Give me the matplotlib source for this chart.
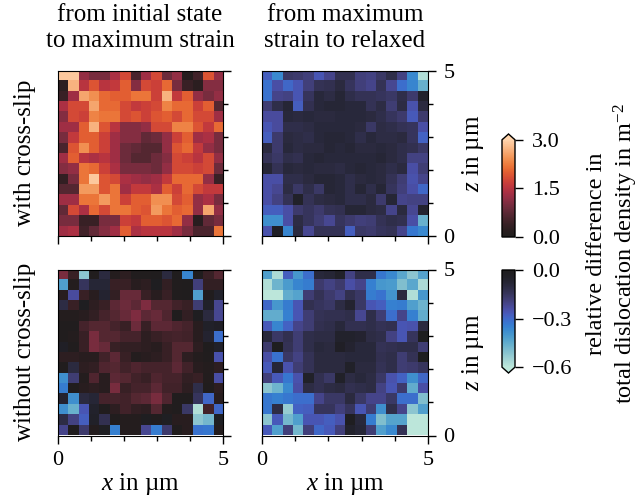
import numpy as np
import matplotlib
matplotlib.use("Agg")
import matplotlib.pyplot as plt
import seaborn as sns
from matplotlib.colors import TwoSlopeNorm, Normalize, LinearSegmentedColormap
from matplotlib.cm import ScalarMappable
from matplotlib.ticker import FixedLocator

plt.rcParams['font.family'] = ['Liberation Serif', 'DejaVu Serif']
plt.rcParams['font.size'] = 17
plt.rcParams['mathtext.fontset'] = 'custom'
plt.rcParams['mathtext.rm'] = 'Liberation Serif'
plt.rcParams['mathtext.it'] = 'Liberation Serif:italic'
plt.rcParams['mathtext.bf'] = 'Liberation Serif:bold'

# rows run top to bottom, each cell
slip_load = [
    [2.9,2.9,1.2,1.0,1.0,1.4,1.8,0.6,1.3,1.8,0.9,1.2,0.15,0.5,1.9,1.2],
    [0.25,2.7,1.5,1.9,1.5,1.6,2.0,1.1,1.8,1.7,2.1,1.0,0.4,0.25,1.1,1.1],
    [0.4,1.3,2.6,2.4,2.1,2.0,2.0,2.2,2.2,1.7,2.7,1.6,2.0,1.2,1.0,1.2],
    [1.4,1.8,1.8,2.6,2.1,2.1,1.8,1.6,1.7,1.8,2.3,2.1,2.1,1.7,2.0,0.7],
    [1.1,1.8,1.7,2.3,2.2,2.2,1.8,1.9,1.7,1.9,2.0,1.8,2.1,1.8,1.8,1.3],
    [1.3,1.3,2.0,2.7,1.9,1.5,1.1,1.1,1.2,1.8,1.8,2.3,2.3,1.9,1.6,2.1],
    [1.0,1.6,2.0,2.0,1.7,1.3,1.1,1.1,0.8,0.9,1.2,1.7,2.0,1.3,1.4,1.0],
    [0.6,1.9,2.4,2.0,1.7,1.3,0.9,0.8,0.7,0.7,1.2,1.9,2.1,1.6,1.2,1.0],
    [1.3,2.0,1.5,1.4,1.5,1.3,0.9,0.7,0.7,0.9,1.1,1.8,1.7,1.5,1.8,1.2],
    [1.1,1.2,2.2,2.1,1.7,1.4,1.0,1.0,1.0,0.9,1.2,1.8,1.8,1.7,1.8,0.9],
    [0.35,1.0,2.2,2.9,1.9,1.8,1.4,1.3,1.2,1.3,1.6,2.1,2.1,2.1,1.2,0.4],
    [0.7,0.7,2.5,2.5,1.9,2.2,1.3,1.6,1.6,1.4,2.0,1.7,2.1,1.8,1.6,1.6],
    [1.3,1.3,2.2,2.2,2.5,2.2,1.7,2.0,2.0,2.4,2.4,1.8,2.0,1.2,1.4,1.0],
    [0.8,1.8,1.4,2.1,1.8,2.2,2.2,2.0,1.9,2.5,2.2,2.0,2.1,1.2,2.6,1.2],
    [1.0,1.0,0.4,0.4,1.0,1.0,1.7,1.6,2.0,2.0,1.9,2.1,1.2,0.2,0.8,1.0],
    [1.3,1.4,0.5,0.8,1.1,1.3,2.0,1.4,1.5,1.5,1.5,1.3,1.0,0.6,0.6,2.2],
]
slip_relax = [
    [-.28,-.37,-.16,-.17,-.19,-.26,-.21,-.13,-.13,-.19,-.2,-.16,-.12,-.2,-.37,-.58],
    [-.32,-.24,-.3,-.26,-.19,-.14,-.13,-.1,-.15,-.19,-.21,-.14,-.22,-.31,-.36,-.46],
    [-.32,-.21,-.2,-.26,-.15,-.09,-.11,-.08,-.12,-.14,-.14,-.15,-.16,-.12,-.17,-.06],
    [-.18,-.12,-.08,-.28,-.13,-.09,-.08,-.08,-.09,-.09,-.14,-.11,-.18,-.11,-.25,-.1],
    [-.23,-.23,-.09,-.1,-.09,-.1,-.1,-.09,-.09,-.09,-.1,-.12,-.15,-.17,-.27,-.17],
    [-.26,-.23,-.12,-.12,-.11,-.09,-.09,-.09,-.09,-.1,-.16,-.11,-.12,-.14,-.15,-.24],
    [-.28,-.17,-.1,-.11,-.12,-.09,-.08,-.08,-.09,-.12,-.09,-.11,-.11,-.1,-.15,-.29],
    [-.1,-.17,-.09,-.11,-.1,-.1,-.08,-.09,-.08,-.1,-.1,-.09,-.1,-.12,-.13,-.16],
    [-.14,-.16,-.12,-.13,-.09,-.08,-.09,-.09,-.09,-.09,-.09,-.08,-.1,-.12,-.2,-.2],
    [-.08,-.14,-.09,-.1,-.09,-.1,-.1,-.11,-.09,-.08,-.09,-.1,-.12,-.1,-.24,-.18],
    [-.24,-.24,-.12,-.12,-.1,-.08,-.08,-.09,-.12,-.1,-.09,-.1,-.14,-.18,-.25,-.21],
    [-.24,-.22,-.11,-.16,-.12,-.16,-.08,-.09,-.12,-.08,-.12,-.08,-.15,-.19,-.24,-.3],
    [-.24,-.2,-.14,-.05,-.14,-.11,-.1,-.09,-.12,-.12,-.1,-.17,-.08,-.21,-.2,-.2],
    [-.28,-.28,-.24,-.17,-.15,-.17,-.14,-.13,-.08,-.08,-.1,-.11,-.21,-.1,-.22,-.07],
    [-.38,-.38,-.24,-.11,-.15,-.18,-.22,-.15,-.17,-.19,-.18,-.14,-.12,-.13,-.24,-.46],
    [-.25,-.04,-.36,-.1,-.22,-.14,-.14,-.14,-.28,-.16,-.17,-.15,-.14,-.21,-.33,-.37],
]
noslip_load = [
    [1.0,.4,-.52,.07,-.1,.14,.28,.07,.07,.04,-.1,.04,-.36,.04,.4,.7],
    [-.42,.14,-.15,-.08,-.08,.4,.4,.2,.28,-.02,.35,.07,.04,-.19,.35,.35],
    [.2,-.23,.4,.2,-.07,.35,.85,.85,.4,.2,.4,.07,.04,-.42,.05,-.06],
    [-.11,.4,-.02,.28,.4,.75,.9,.75,1.05,.7,.7,.5,.4,-.18,-.05,-.22],
    [.14,.14,.2,.35,.55,.7,.85,1.05,.75,.85,.65,.04,.35,-.02,-.1,-.22],
    [.07,.07,.55,.7,.7,.55,.4,.9,.4,.75,.75,.65,.55,.2,-.05,-.04],
    [.07,.14,.4,1.0,.7,.7,.55,.55,.28,.4,.5,.55,.5,.2,-.07,-.31],
    [-.04,.07,.4,1.0,.85,.4,.35,.35,.28,.2,.4,.7,.7,.28,.04,-.05],
    [.28,.28,.2,.2,.5,.75,.4,.14,.2,.28,.4,.7,.28,.14,.07,-.25],
    [.07,-.1,.28,.35,.65,.7,.5,.65,.55,.55,.55,.75,.5,.2,.14,.28],
    [-.38,-.18,.14,.65,.2,.75,.7,.5,.4,.65,.55,.55,.35,.4,.1,-.24],
    [-.34,.07,.2,.28,.2,1.0,.4,.55,.55,.75,.5,.5,.28,-.12,.07,.28],
    [-.07,-.38,-.1,-.08,.55,.55,.5,.7,.75,1.0,.65,.07,.07,-.15,-.3,.2],
    [-.38,-.46,-.26,-.06,.07,.28,.5,.35,.28,.7,.14,.07,-.16,-.58,.5,-.3],
    [-.11,-.2,-.28,-.05,-.13,.07,.14,.14,-.02,.07,-.03,.2,.2,-.52,-.48,-.03],
    [-.21,.04,-.17,.14,-.03,-.35,.14,.14,-.22,-.34,-.17,.07,.2,-.32,-.33,.14],
]
noslip_relax = [
    [-.42,-.57,-.28,-.4,-.31,-.09,-.08,-.05,-.2,-.12,-.12,-.33,-.37,-.44,-.52,-.43],
    [-.58,-.47,-.41,-.36,-.34,-.17,-.2,-.17,-.24,-.21,-.35,-.4,-.41,-.5,-.44,-.57],
    [-.6,-.6,-.45,-.43,-.18,-.14,-.17,-.2,-.13,-.16,-.34,-.32,-.39,-.1,-.58,-.4],
    [-.3,-.4,-.34,-.26,-.13,-.15,-.16,-.11,-.07,-.16,-.26,-.28,-.35,-.34,-.42,-.47],
    [-.45,-.45,-.35,-.26,-.18,-.14,-.13,-.13,-.12,-.22,-.12,-.18,-.31,-.21,-.35,-.45],
    [-.27,-.36,-.29,-.21,-.18,-.13,-.12,-.09,-.13,-.13,-.12,-.14,-.13,-.26,-.25,-.1],
    [-.09,-.16,-.13,-.18,-.12,-.11,-.11,-.06,-.06,-.07,-.11,-.12,-.2,-.26,-.15,-.01],
    [-.17,-.01,-.14,-.18,-.12,-.09,-.1,-.04,-.07,-.09,-.09,-.14,-.13,-.12,-.12,-.18],
    [-.24,-.32,-.16,-.2,-.14,-.1,-.1,-.1,-.09,-.09,-.09,-.13,-.12,-.18,-.14,-.01],
    [-.27,-.08,-.25,-.18,-.14,-.1,-.1,-.1,-.05,-.1,-.1,-.14,-.12,-.18,-.17,-.15],
    [-.19,-.27,-.33,-.25,-.05,-.13,-.16,-.05,-.11,-.09,-.11,-.16,-.25,-.29,-.38,-.3],
    [-.52,-.47,-.37,-.24,-.11,-.13,-.11,-.1,-.13,-.12,-.11,-.2,-.26,-.17,-.45,-.24],
    [-.33,-.35,-.33,-.31,-.31,-.21,-.16,-.16,-.1,-.16,-.21,-.21,-.16,-.31,-.31,-.5],
    [-.33,-.11,-.53,-.29,-.28,-.15,-.15,-.19,-.15,-.26,-.18,-.38,-.12,-.21,-.52,-.42],
    [-.52,-.27,-.48,-.42,-.26,-.26,-.28,-.25,-.02,-.09,-.34,-.5,-.43,-.43,-.6,-.6],
    [-.27,-.42,-.19,-.48,-.19,-.3,-.27,-.19,-.06,-.08,-.18,-.42,-.37,-.14,-.6,-.6],
]

W, H = 643, 501


def px_axes(fig, x0, y0, x1, y1):
    # pixel box, y measured from the top
    return fig.add_axes([x0 / W, 1 - y1 / H, (x1 - x0) / W, (y1 - y0) / H])


cmap = sns.color_palette("icefire", as_cmap=True)
norm = TwoSlopeNorm(vmin=-0.6, vcenter=0, vmax=3)

fig = plt.figure(figsize=(W / 100, H / 100), dpi=100)

panels = [
    (slip_load, 57.5, 70.5, 223.5, 236.5),
    (slip_relax, 262, 70.5, 428, 236.5),
    (noslip_load, 57.5, 269.5, 223.5, 435.5),
    (noslip_relax, 262, 269.5, 428, 435.5),
]

for i, (vals, x0, y0, x1, y1) in enumerate(panels):
    ax = px_axes(fig, x0, y0, x1, y1)
    ax.imshow(np.array(vals), cmap=cmap, norm=norm, extent=[0, 5, 0, 5],
              origin='upper', interpolation='nearest', aspect='auto')
    ax.yaxis.tick_right()
    ax.set_xticks([0, 5])
    ax.set_yticks([0, 5])
    ax.xaxis.set_minor_locator(FixedLocator([1, 2, 3, 4]))
    ax.yaxis.set_minor_locator(FixedLocator([1, 2, 3, 4]))
    ax.tick_params(which='major', length=6, width=1, pad=5, labelsize=16)
    ax.tick_params(which='minor', length=3.5, width=1)
    if i < 2:
        ax.set_xticklabels([])
    else:
        ax.set_xlabel(r"$x$ in µm", fontsize=18, labelpad=1)
    if i % 2 == 0:
        ax.set_yticklabels([])
    else:
        ax.set_ylabel(r"$z$ in µm", fontsize=18, labelpad=4, rotation=90)
        ax.yaxis.set_label_position('right')

fig.text(140 / W, 1 - 28 / H, "from initial state\nto maximum strain", ha='center',
         va='center', fontsize=18, linespacing=1.2)
fig.text(345 / W, 1 - 28 / H, "from maximum\nstrain to relaxed", ha='center',
         va='center', fontsize=18, linespacing=1.2)
fig.text(25 / W, 1 - 153 / H, "with cross-slip", rotation=90, ha='center', va='center', fontsize=18)
fig.text(25 / W, 1 - 352 / H, "without cross-slip", rotation=90, ha='center', va='center', fontsize=18)

# the two bars show the halves of one diverging map
top_cmap = LinearSegmentedColormap.from_list("ice_top", cmap(np.linspace(0.5, 1, 128)))
top_cmap.set_over(cmap(1.0))
bot_cmap = LinearSegmentedColormap.from_list("ice_bot", cmap(np.linspace(0, 0.5, 128)))
bot_cmap.set_under(cmap(0.0))

cax1 = px_axes(fig, 502, 134, 515, 237)
cb1 = fig.colorbar(ScalarMappable(Normalize(0, 3), top_cmap), cax=cax1, extend='max', extendfrac=0.06)
cb1.set_ticks([0, 1.5, 3])
cb1.set_ticklabels(["0.0", "1.5", "3.0"])

cax2 = px_axes(fig, 502, 270, 515, 373)
cb2 = fig.colorbar(ScalarMappable(Normalize(-0.6, 0), bot_cmap), cax=cax2, extend='min', extendfrac=0.06)
cb2.set_ticks([-0.6, -0.3, 0])
cb2.set_ticklabels(["−0.6", "−0.3", "0.0"])

for cb in (cb1, cb2):
    cb.outline.set_linewidth(1)
    cb.ax.tick_params(length=6, width=1, pad=6, labelsize=16)

fig.text(613 / W, 1 - 254 / H, "relative difference in\ntotal dislocation density in m$^{-2}$",
         rotation=90, ha='center', va='center', fontsize=17.5, linespacing=1.25)

fig.savefig("out.png", dpi=100)
